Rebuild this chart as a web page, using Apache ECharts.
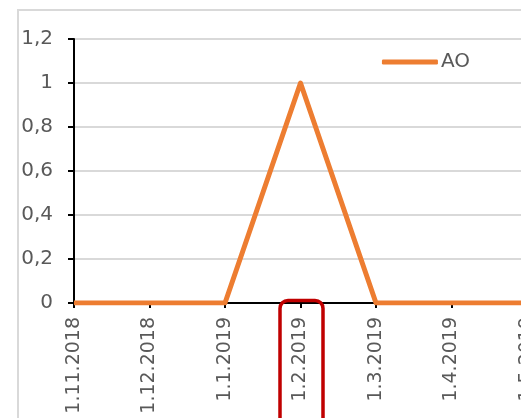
<!DOCTYPE html>
<html>
<head>
<meta charset="utf-8">
<script src="https://cdn.jsdelivr.net/npm/echarts@6/dist/echarts.min.js"></script>
<style>
  html, body { margin: 0; padding: 0; background: #fff; }
  #chart { width: 521px; height: 418px; }
</style>
</head>
<body>
<div id="chart"></div>
<script>
// Monthly dates on the category axis
const months = ['1.11.2018', '1.12.2018', '1.1.2019', '1.2.2019', '1.3.2019', '1.4.2019', '1.5.2019'];
// AO series values
const aoValues = [0, 0, 0, 1, 0, 0, 0];
// Value axis ticks
const yTicks = [0, 0.2, 0.4, 0.6, 0.8, 1, 1.2];
// Month to outline on the axis
const highlightMonth = '1.2.2019';

const FONT = '"DejaVu Sans", sans-serif';
const TEXT = '#595959';
const ORANGE = '#ED7D31';

const chart = echarts.init(document.getElementById('chart'), null, { renderer: 'canvas' });

const option = {
  animation: false,
  backgroundColor: '#fff',
  grid: { left: 74, top: 39, right: -6, bottom: 115, containLabel: false, outerBoundsMode: 'none' },
  legend: {
    right: 46, top: 47,
    itemWidth: 56, itemHeight: 5, itemGap: 4,
    icon: 'roundRect',
    textStyle: { color: TEXT, fontFamily: FONT, fontSize: 20, padding: [0, 0, 0, -2] },
    data: [{ name: 'AO', itemStyle: { color: ORANGE } }]
  },
  xAxis: {
    type: 'category',
    data: months,
    boundaryGap: false,
    axisLine: { lineStyle: { color: '#000', width: 2 } },
    axisTick: { show: true, length: 5, alignWithLabel: true, lineStyle: { color: '#000', width: 2 } },
    axisLabel: {
      rotate: 90, margin: 14, interval: 0,
      color: TEXT, fontFamily: FONT, fontSize: 19
    },
    splitLine: { show: false }
  },
  yAxis: {
    type: 'value',
    min: yTicks[0], max: yTicks[yTicks.length - 1], interval: 0.2,
    axisLine: { show: true, lineStyle: { color: '#000', width: 2 } },
    axisTick: { show: true, length: 6, lineStyle: { color: '#000', width: 2 } },
    axisLabel: {
      margin: 21, color: TEXT, fontFamily: FONT, fontSize: 20,
      formatter: v => String(Math.round(v * 10) / 10).replace('.', ',')
    },
    splitLine: { lineStyle: { color: '#d9d9d9', width: 2 } }
  },
  series: [{
    name: 'AO',
    type: 'line',
    data: aoValues,
    symbol: 'none',
    lineStyle: { color: ORANGE, width: 5, join: 'round' },
    itemStyle: { color: ORANGE },
    z: 3
  }]
};

chart.setOption(option);

// Chart frame and the outlined month label
const cx = chart.convertToPixel({ xAxisIndex: 0 }, highlightMonth);
const axisY = chart.convertToPixel({ yAxisIndex: 0 }, 0);
chart.setOption({
  graphic: [
    {
      type: 'rect', silent: true, z: 0,
      shape: { x: 18, y: 10, width: 600, height: 500 },
      style: { fill: 'none', stroke: '#d9d9d9', lineWidth: 2 }
    },
    {
      type: 'rect', silent: true, z: 10,
      shape: { x: cx - 20.5, y: axisY - 2.5, width: 43, height: 140, r: 8 },
      style: { fill: 'none', stroke: '#C00000', lineWidth: 3.5 }
    }
  ]
});
</script>
</body>
</html>
